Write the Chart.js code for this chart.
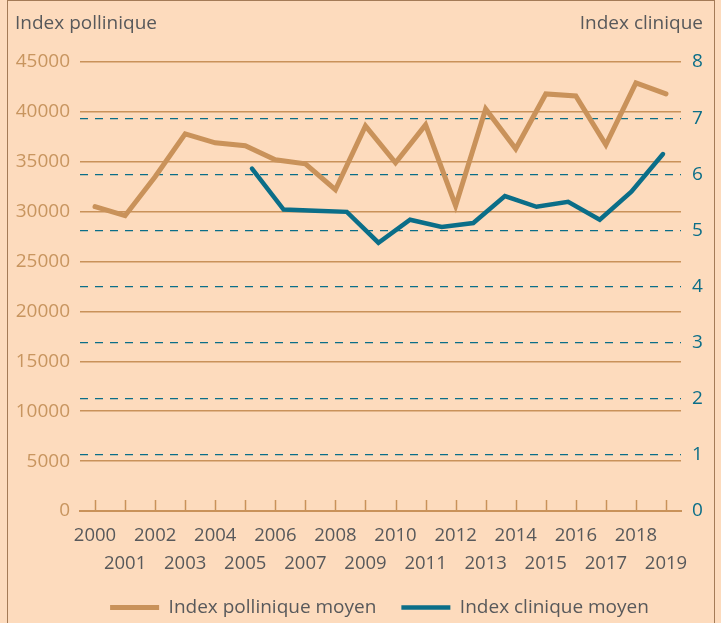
<!DOCTYPE html>
<html>
<head>
<meta charset="utf-8">
<script src="https://cdn.jsdelivr.net/npm/chart.js@4.4.0/dist/chart.umd.min.js"></script>
<style>
  html, body { margin: 0; padding: 0; background: #fddbbd; }
  #wrap { position: relative; width: 721px; height: 623px; overflow: hidden; }
  #frame { position: absolute; left: 7px; top: 0; width: 708px; height: 660px;
           border: 1.5px solid #a47b57; box-sizing: border-box; pointer-events: none; }
</style>
</head>
<body>
<div id="wrap">
  <canvas id="chart" width="721" height="623"></canvas>
  <div id="frame"></div>
</div>
<script>
const years = [2000, 2001, 2002, 2003, 2004, 2005, 2006, 2007, 2008, 2009,
               2010, 2011, 2012, 2013, 2014, 2015, 2016, 2017, 2018, 2019];
const pollenValues = [30500, 29600, 33500, 37800, 36900, 36600, 35200, 34800, 32200, 38600,
                      34900, 38700, 30600, 40300, 36300, 41800, 41600, 36700, 42900, 41800];
// clinical index starts later and is drawn on its own (slightly stretched) year axis
const clinicYears = [2006, 2007, 2008, 2009, 2010, 2011, 2012, 2013, 2014, 2015, 2016, 2017, 2018, 2019];
const clinicValues = [6.10, 5.37, 5.35, 5.33, 4.78, 5.19, 5.06, 5.13, 5.61, 5.42, 5.51, 5.19, 5.69, 6.36];

const tan = '#c9925a';
const teal = '#0b6e88';
const grey = '#58595b';

// two rows of year labels, even years on top, odd ones below
const yearLabels = years.map((y, i) => i % 2 === 0 ? [String(y), ''] : ['', String(y)]);

const extras = {
  id: 'extras',
  beforeDatasetsDraw(chart) {
    const ctx = chart.ctx;
    const xs = chart.scales.x;
    const bottom = chart.chartArea.bottom;
    ctx.save();
    ctx.strokeStyle = tan;
    ctx.lineWidth = 1.5;
    years.forEach((y, i) => {
      const px = Math.round(xs.getPixelForValue(i)) + 0.5;
      ctx.beginPath();
      ctx.moveTo(px, bottom - 11);
      ctx.lineTo(px, bottom);
      ctx.stroke();
    });
    ctx.restore();
  },
  afterDraw(chart) {
    const ctx = chart.ctx;
    ctx.save();
    ctx.fillStyle = grey;
    ctx.font = '19px "Open Sans"';
    ctx.textBaseline = 'alphabetic';
    ctx.textAlign = 'left';
    ctx.fillText('Index pollinique', 15, 29);
    ctx.textAlign = 'right';
    ctx.fillText('Index clinique', 703, 29);
    ctx.restore();
  }
};

new Chart(document.getElementById('chart'), {
  type: 'line',
  data: {
    labels: yearLabels,
    datasets: [
      {
        label: 'Index pollinique moyen',
        data: pollenValues,
        borderColor: tan,
        backgroundColor: tan,
        borderWidth: 5,
        borderCapStyle: 'round',
        pointRadius: 0,
        tension: 0,
        xAxisID: 'x',
        yAxisID: 'y'
      },
      {
        label: 'Index clinique moyen',
        data: clinicYears.map((y, i) => ({ x: y, y: clinicValues[i] })),
        borderColor: teal,
        backgroundColor: teal,
        borderWidth: 4.5,
        borderCapStyle: 'round',
        pointRadius: 0,
        tension: 0,
        xAxisID: 'x2',
        yAxisID: 'y1'
      }
    ]
  },
  options: {
    responsive: false,
    animation: false,
    // negative right padding pushes the centred legend a bit to the right, like the original
    layout: { padding: { top: 62, left: 15, right: -23, bottom: 0 } },
    plugins: {
      tooltip: { enabled: false },
      legend: {
        position: 'bottom',
        maxHeight: 50,
        labels: {
          usePointStyle: true,
          pointStyle: 'line',
          pointStyleWidth: 49,
          padding: 25,
          color: grey,
          font: { family: '"Open Sans"', size: 19 }
        }
      }
    },
    scales: {
      x: {
        offset: true,
        grid: { display: true, drawOnChartArea: false, drawTicks: false },
        border: { display: true, color: tan, width: 2 },
        ticks: {
          color: grey,
          padding: 11,
          maxRotation: 0,
          autoSkip: false,
          font: { family: '"Open Sans"', size: 18.5, lineHeight: 1.5 }
        },
        afterFit(scale) { scale.height = 62; }
      },
      x2: {
        type: 'linear',
        display: false,
        min: 2000.56,
        max: 2019.57
      },
      y: {
        position: 'left',
        min: 0,
        max: 45000,
        grid: { color: tan, lineWidth: 1.5, drawTicks: false },
        border: { display: false },
        ticks: {
          stepSize: 5000,
          color: '#c8955f',
          padding: 10,
          font: { family: '"Open Sans"', size: 19 },
          callback: (v) => String(v)
        },
        afterFit(scale) { scale.width = 65; }
      },
      y1: {
        position: 'right',
        min: 0,
        max: 8,
        grid: {
          drawTicks: false,
          lineWidth: 1.2,
          color: (c) => (c.tick && (c.tick.value === 0 || c.tick.value === 8)) ? 'rgba(0,0,0,0)' : teal
        },
        border: { display: false, dash: [8, 7] },
        ticks: {
          stepSize: 1,
          color: teal,
          padding: 11,
          font: { family: '"Open Sans"', size: 19 }
        },
        afterFit(scale) { scale.width = 63; }
      }
    }
  },
  plugins: [extras]
});
</script>
</body>
</html>
